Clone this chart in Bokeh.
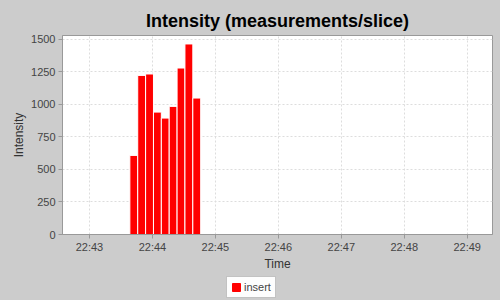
from datetime import datetime
from bokeh.plotting import figure
from bokeh.layouts import column
from bokeh.models import FixedTicker, DatetimeTickFormatter, Legend, LegendItem, Range1d
from bokeh.embed import file_html
from bokeh.resources import INLINE

# Data
slice_starts = ["22:43:38.5", "22:43:46", "22:43:53.5", "22:44:01", "22:44:08.5",
                "22:44:16", "22:44:23.5", "22:44:31", "22:44:38.5"]
slice_seconds = 7.5
intensity = [608, 1223, 1234, 941, 895, 985, 1280, 1465, 1049]
tick_labels = ["22:43", "22:44", "22:45", "22:46", "22:47", "22:48", "22:49"]
series_name = "insert"

DAY = "2020-01-01 "

def to_ms(t):
    fmt = "%Y-%m-%d %H:%M:%S.%f" if "." in t else ("%Y-%m-%d %H:%M:%S" if t.count(":") == 2 else "%Y-%m-%d %H:%M")
    return datetime.strptime(DAY + t, fmt).timestamp() * 1000.0

w_ms = slice_seconds * 1000.0
centers = [to_ms(s) + w_ms / 2 for s in slice_starts]
ticks = [to_ms(t) for t in tick_labels]

x0 = to_ms("22:42:34.3")
x1 = to_ms("22:49:24.1")

bg = "#cccccc"
BAR = "#ff0000"

p = figure(width=500, height=273, output_backend="svg", toolbar_location=None,
           x_axis_type="datetime", x_range=Range1d(x0, x1), y_range=Range1d(0, 1530),
           title="Intensity (measurements/slice)")
p.min_border_left = 62
p.min_border_right = 8
p.min_border_top = 35
p.min_border_bottom = 39

p.background_fill_color = "white"
p.border_fill_color = bg
p.outline_line_color = "#999999"

p.title.align = "center"
p.title.text_font = "Liberation Sans"
p.title.text_font_size = "18px"
p.title.text_font_style = "bold"
p.title.text_color = "black"
p.title.offset = 0

r = p.vbar(x=centers, top=intensity, width=w_ms, bottom=0,
           fill_color=BAR, line_color="white", line_width=1)

p.xaxis.ticker = FixedTicker(ticks=ticks)
p.xaxis.formatter = DatetimeTickFormatter(minutes="%H:%M", hours="%H:%M", seconds="%H:%M")
p.yaxis.ticker = FixedTicker(ticks=[0, 250, 500, 750, 1000, 1250, 1500])
p.xaxis.axis_label = "Time"
p.yaxis.axis_label = "Intensity"

for ax in (p.xaxis, p.yaxis):
    ax.axis_line_color = "#999999"
    ax.major_tick_line_color = "#999999"
    ax.major_tick_out = 4
    ax.major_tick_in = 0
    ax.minor_tick_line_color = None
    ax.major_label_text_font = "Liberation Sans"
    ax.major_label_text_font_size = "11px"
    ax.major_label_text_color = "#444444"
    ax.axis_label_text_font = "Liberation Sans"
    ax.axis_label_text_font_size = "12px"
    ax.axis_label_text_font_style = "normal"
    ax.axis_label_text_color = "#333333"

p.yaxis.major_label_standoff = 3
p.yaxis.axis_label_standoff = 2
p.xaxis.major_label_standoff = 2
p.xaxis.axis_label_standoff = 1

for g in (p.xgrid, p.ygrid):
    g.grid_line_color = "#dddddd"
    g.grid_line_dash = "2 2"
    g.grid_line_width = 1

# Legend strip below the chart
q = figure(width=500, height=27, output_backend="svg", toolbar_location=None,
           x_range=Range1d(x0, x1), y_range=Range1d(-2, -1))
q.min_border_left = 62
q.min_border_right = 8
q.min_border_top = 0
q.min_border_bottom = 0
q.axis.visible = False
q.grid.visible = False
q.outline_line_color = None
q.background_fill_color = None
q.border_fill_color = bg
lr = q.vbar(x=centers, top=intensity, width=w_ms, bottom=0,
            fill_color=BAR, line_color=BAR, visible=False)
legend = Legend(items=[LegendItem(label=series_name, renderers=[lr])],
                orientation="horizontal", location=(164, 2),
                background_fill_color="white", border_line_color="#888888",
                inactive_fill_alpha=0.0,
                label_text_font="Liberation Sans", label_text_font_size="11px",
                glyph_width=10, glyph_height=10, padding=4, spacing=0,
                margin=0, label_standoff=3, label_height=10)
q.add_layout(legend, "center")

layout = column(p, q, spacing=0, styles={"background-color": bg})
open("out.html", "w").write(file_html(layout, INLINE))
